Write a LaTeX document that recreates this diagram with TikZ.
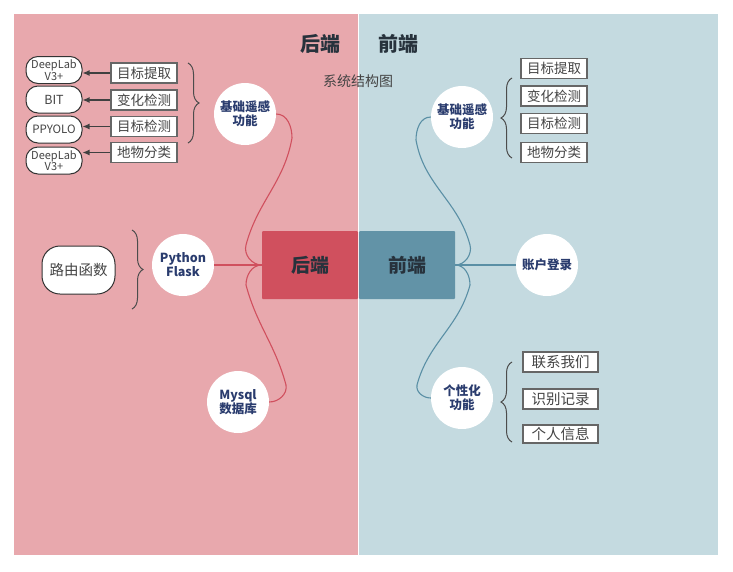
\documentclass[tikz,border=0pt]{standalone}
\usepackage{fontspec}
\setmainfont{Noto Sans CJK SC}
\usetikzlibrary{arrows.meta,decorations.pathreplacing}
\definecolor{pinkbg}{HTML}{E8A8AD}
\definecolor{bluebg}{HTML}{C4DAE0}
\definecolor{redhub}{HTML}{D0505E}
\definecolor{bluehub}{HTML}{6293A7}
\definecolor{hubtext}{HTML}{27323C}
\definecolor{navy}{HTML}{2A3C6E}
\definecolor{leaftext}{HTML}{444444}
\definecolor{redln}{HTML}{D0505E}
\definecolor{blueln}{HTML}{5A8FA5}
\begin{document}
\begin{tikzpicture}[
x=1pt, y=-1pt,
every node/.style={inner sep=0pt}
]

\tikzstyle{c} = [circle, fill=white, minimum size=62pt, align=center, text=navy, font=\fontsize{12.5}{14}\selectfont\bfseries]
\tikzstyle{r} = [draw=black!60, fill=white, line width=1.2pt, minimum width=66pt, minimum height=20pt, text=leaftext, font=\fontsize{13.5}{14}\selectfont]
\tikzstyle{rr} = [draw=black!80, fill=white, line width=1pt, rounded corners=12pt, minimum width=56pt, minimum height=27pt, align=center, text=leaftext, font=\fontsize{11}{11.5}\selectfont]
\tikzstyle{hb} = [minimum width=96pt, minimum height=68pt, rounded corners=1pt, text=hubtext, font=\fontsize{19}{20}\selectfont\bfseries]
\tikzstyle{brc} = [decorate, decoration={brace, amplitude=11pt}, draw=black!70, line width=1pt]

\useasboundingbox (0,0) rectangle (733,571);
\fill[pinkbg] (14,14) rectangle (358,555);
\fill[bluebg] (359,14) rectangle (718,555);

% titles
\node[text=hubtext, font=\fontsize{20}{20}\selectfont\bfseries] (tback) at (320,44) {后端};
\node[text=hubtext, font=\fontsize{20}{20}\selectfont\bfseries] (tfront) at (398,44) {前端};
\node[text=leaftext, font=\fontsize{14}{14}\selectfont] (ttitle) at (358,81) {系统结构图};

% hubs
\node[hb, fill=redhub] (back) at (310,265) {后端};
\node[hb, fill=bluehub] (front) at (407,265) {前端};

% circles
\node[c] (bjl) at (245,114) {基础遥感\\功能};
\node[c] (py) at (183,265) {Python\\Flask};
\node[c] (db) at (238,402) {Mysql\\数据库};
\node[c] (bjr) at (462,117) {基础遥感\\功能};
\node[c] (acc) at (547,265) {账户登录};
\node[c] (per) at (462,398) {个性化\\功能};

% back end leaves
\node[r] (l1) at (144,73) {目标提取};
\node[r] (l2) at (144,100) {变化检测};
\node[r] (l3) at (144,126.5) {目标检测};
\node[r] (l4) at (144,152.5) {地物分类};
\node[rr] (m1) at (54,70) {DeepLab\\V3+};
\node[rr] (m2) at (54,99.5) {\fontsize{12.5}{12}\selectfont BIT};
\node[rr] (m3) at (54,129.5) {\fontsize{11.5}{12}\selectfont PPYOLO};
\node[rr] (m4) at (54,160.5) {DeepLab\\V3+};
\foreach \i in {1,...,4}
  \draw[-{Latex[length=7pt,width=6pt]}, draw=black!75, line width=1.1pt] (l\i.west) -- (l\i.west -| m\i.east);
\node[rr, minimum width=73pt, minimum height=48pt, rounded corners=18pt, font=\fontsize{14.5}{14}\selectfont] (route) at (78.5,270) {路由函数};

% front end leaves
\node[r] (f1) at (554,68.5) {目标提取};
\node[r] (f2) at (554,96) {变化检测};
\node[r] (f3) at (554,123.5) {目标检测};
\node[r] (f4) at (554,152.5) {地物分类};
\node[r, minimum width=75pt, font=\fontsize{14.5}{15}\selectfont] (p1) at (560.5,362) {联系我们};
\node[r, minimum width=75pt, font=\fontsize{14.5}{15}\selectfont] (p2) at (560.5,399) {识别记录};
\node[r, minimum width=75pt, minimum height=18pt, font=\fontsize{14.5}{15}\selectfont] (p3) at (560.5,434) {个人信息};

% braces
\coordinate (b1s) at (188,63);  \coordinate (b1e) at (188,143);
\coordinate (b2s) at (132,230); \coordinate (b2e) at (132,309);
\coordinate (b3s) at (512,158); \coordinate (b3e) at (512,78);
\coordinate (b4s) at (512,442); \coordinate (b4e) at (512,362);
\draw[brc] (b1s) -- (b1e);
\draw[brc] (b2s) -- (b2e);
\draw[brc] (b3s) -- (b3e);
\draw[brc] (b4s) -- (b4e);

% arms
\draw[redln, line width=1.1pt] (bjl.east) to[out=0,in=90] (292,138) to[out=-100,in=75] (246,245) to[out=-105,in=180] (back.west);
\draw[redln, line width=1.1pt] (py.east) -- (back.west);
\draw[redln, line width=1.1pt] (back.west) to[out=180,in=90] (246,285) to[out=-75,in=105] (286,385) to[out=-80,in=0] (db.east);
\draw[blueln, line width=1.1pt] (bjr.west) to[out=180,in=90] (416,140) to[out=-80,in=105] (470,245) to[out=-75,in=0] (front.east);
\draw[blueln, line width=1.1pt] (front.east) -- (acc.west);
\draw[blueln, line width=1.1pt] (front.east) to[out=0,in=90] (470,285) to[out=-105,in=75] (417,385) to[out=-100,in=180] (per.west);
\end{tikzpicture}
\end{document}
